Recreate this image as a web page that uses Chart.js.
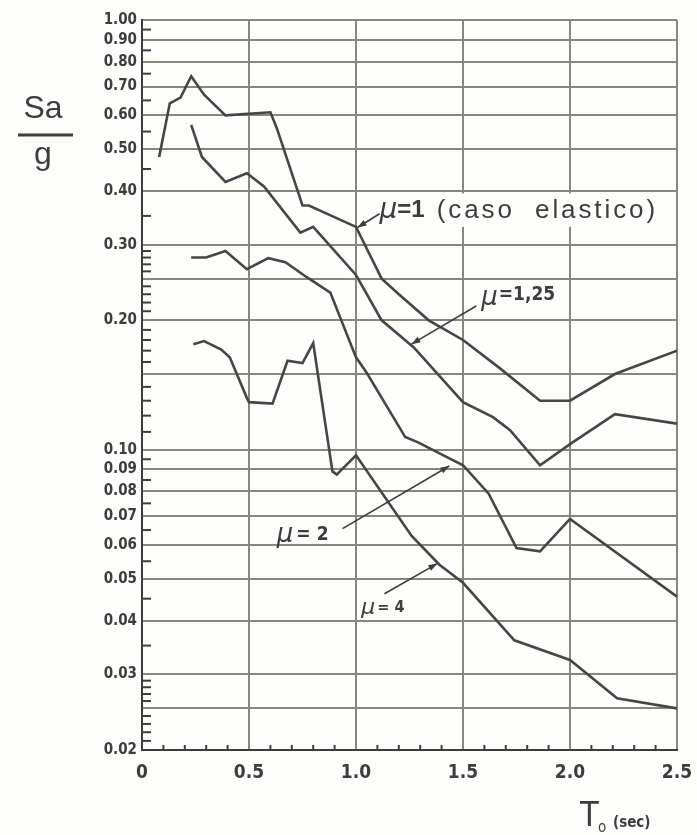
<!DOCTYPE html>
<html>
<head>
<meta charset="utf-8">
<script src="https://cdn.jsdelivr.net/npm/chart.js@4.4.0/dist/chart.umd.min.js"></script>
<style>
  html, body { margin: 0; padding: 0; background: #fff; }
  canvas { display: block; }
</style>
</head>
<body>
<canvas id="myChart" width="697" height="835"></canvas>
<script>
// periods T (sec) and spectral ordinates Sa/g
const tMu1 = [0.08, 0.13, 0.18, 0.23, 0.29, 0.39, 0.60, 0.63, 0.75, 0.78, 1.0, 1.12, 1.2, 1.34, 1.5, 1.67, 1.86, 2.0, 2.21, 2.5];
const saMu1 = [0.48, 0.64, 0.66, 0.74, 0.67, 0.60, 0.61, 0.56, 0.37, 0.37, 0.33, 0.25, 0.23, 0.20, 0.18, 0.155, 0.13, 0.13, 0.15, 0.17];

const tMu125 = [0.23, 0.28, 0.39, 0.49, 0.57, 0.74, 0.80, 1.0, 1.12, 1.27, 1.5, 1.64, 1.72, 1.86, 2.0, 2.21, 2.5];
const saMu125 = [0.57, 0.48, 0.42, 0.44, 0.41, 0.32, 0.33, 0.255, 0.20, 0.173, 0.129, 0.119, 0.111, 0.092, 0.103, 0.121, 0.115];

const tMu2 = [0.23, 0.30, 0.39, 0.49, 0.59, 0.67, 0.77, 0.88, 1.0, 1.05, 1.23, 1.29, 1.5, 1.62, 1.75, 1.86, 2.0, 2.5];
const saMu2 = [0.28, 0.28, 0.29, 0.263, 0.279, 0.273, 0.252, 0.232, 0.164, 0.151, 0.107, 0.104, 0.092, 0.079, 0.059, 0.058, 0.069, 0.0455];

const tMu4 = [0.24, 0.29, 0.37, 0.41, 0.49, 0.50, 0.61, 0.68, 0.75, 0.80, 0.89, 0.91, 1.0, 1.26, 1.39, 1.5, 1.74, 2.0, 2.22, 2.5];
const saMu4 = [0.176, 0.179, 0.171, 0.164, 0.132, 0.129, 0.128, 0.161, 0.159, 0.177, 0.089, 0.0875, 0.097, 0.063, 0.054, 0.049, 0.036, 0.0324, 0.0264, 0.025];

// axis ticks
const yGridValues = [1, 0.9, 0.8, 0.7, 0.6, 0.5, 0.4, 0.3, 0.25, 0.2, 0.15, 0.1, 0.09, 0.08, 0.07, 0.06, 0.05, 0.04, 0.03, 0.025, 0.02];
const yLabelValues = [1, 0.9, 0.8, 0.7, 0.6, 0.5, 0.4, 0.3, 0.2, 0.1, 0.09, 0.08, 0.07, 0.06, 0.05, 0.04, 0.03, 0.02];
const yMinorTicks = [0.95, 0.85, 0.75, 0.65, 0.55, 0.45, 0.35,
  0.29, 0.28, 0.27, 0.26, 0.24, 0.23, 0.22, 0.21,
  0.19, 0.18, 0.17, 0.16, 0.14, 0.13, 0.12, 0.11,
  0.095, 0.085, 0.075, 0.065, 0.055, 0.045, 0.035,
  0.029, 0.028, 0.027, 0.026, 0.024, 0.023, 0.022, 0.021];
const xMinorTicks = [0.1, 0.2, 0.3, 0.4, 0.6, 0.7, 0.8, 0.9, 1.1, 1.2, 1.3, 1.4, 1.6, 1.7, 1.8, 1.9, 2.1, 2.2, 2.3, 2.4];

const INK = "#3d3d3d";
const GRID = "#8b867b";
const CURVE = "#464646";
const COND = "'DejaVu Sans Condensed', 'DejaVu Sans', sans-serif";

function pts(ts, vs) {
  return ts.map((t, i) => ({ x: t, y: vs[i] }));
}

function curve(label, ts, vs) {
  return {
    label: label,
    data: pts(ts, vs),
    borderColor: CURVE,
    borderWidth: 2.6,
    pointRadius: 0,
    tension: 0,
    fill: false,
  };
}

// run of text pieces with different fonts, left aligned
function drawRun(ctx, x, y, parts) {
  ctx.textBaseline = "middle";
  ctx.textAlign = "left";
  parts.forEach((p) => {
    ctx.font = p.font;
    ctx.letterSpacing = p.spacing || "0px";
    ctx.fillText(p.text, x, y + (p.dy || 0));
    x += ctx.measureText(p.text).width + (p.gap || 0);
  });
  ctx.letterSpacing = "0px";
}

function arrow(ctx, x1, y1, x2, y2) {
  ctx.beginPath();
  ctx.moveTo(x1, y1);
  ctx.lineTo(x2, y2);
  ctx.stroke();
  const a = Math.atan2(y2 - y1, x2 - x1);
  const len = 9, w = 3.2;
  ctx.beginPath();
  ctx.moveTo(x2, y2);
  ctx.lineTo(x2 - len * Math.cos(a) + w * Math.sin(a), y2 - len * Math.sin(a) - w * Math.cos(a));
  ctx.lineTo(x2 - len * Math.cos(a) - w * Math.sin(a), y2 - len * Math.sin(a) + w * Math.cos(a));
  ctx.closePath();
  ctx.fill();
}

const paperPlugin = {
  id: "paper",
  beforeDraw(chart) {
    const ctx = chart.ctx;
    ctx.save();
    ctx.fillStyle = "#fdfdfb";
    ctx.fillRect(0, 0, chart.width, chart.height);
    ctx.restore();
  },
  beforeDatasetsDraw(chart) {
    const ctx = chart.ctx;
    const xs = chart.scales.x, ys = chart.scales.y;
    const area = chart.chartArea;
    ctx.save();
    // blank strip behind the elastic label
    ctx.fillStyle = "#fdfdfb";
    const bx = xs.getPixelForValue(1.04), bx2 = xs.getPixelForValue(2.47);
    const by = ys.getPixelForValue(0.395), by2 = ys.getPixelForValue(0.33);
    ctx.fillRect(bx, by, bx2 - bx, by2 - by);
    // short minor ticks inside the frame
    ctx.strokeStyle = INK;
    ctx.lineWidth = 2;
    yMinorTicks.forEach((v) => {
      const y = ys.getPixelForValue(v);
      ctx.beginPath();
      ctx.moveTo(area.left, y);
      ctx.lineTo(area.left + 9, y);
      ctx.stroke();
    });
    xMinorTicks.forEach((t) => {
      const x = xs.getPixelForValue(t);
      ctx.beginPath();
      ctx.moveTo(x, area.bottom);
      ctx.lineTo(x, area.bottom - 5);
      ctx.stroke();
    });
    ctx.restore();
  },
  afterDatasetsDraw(chart) {
    const ctx = chart.ctx;
    const xs = chart.scales.x, ys = chart.scales.y;
    const px = (t) => xs.getPixelForValue(t);
    const py = (v) => ys.getPixelForValue(v);
    ctx.save();
    ctx.fillStyle = INK;
    ctx.strokeStyle = INK;
    ctx.lineWidth = 1.6;

    // mu = 1 (caso elastico)
    arrow(ctx, px(1.11), py(0.354), px(1.007), py(0.329));
    drawRun(ctx, px(1.11), py(0.36), [
      { text: "\u03BC", font: "italic 28px 'DejaVu Sans', sans-serif" },
      { text: "=1", font: "bold 24px 'Liberation Sans', sans-serif", gap: 12 },
      { text: "(caso  elastico)", font: "26px 'Liberation Sans', sans-serif", spacing: "2.9px" },
    ]);

    // mu = 1,25
    arrow(ctx, px(1.562), py(0.216), px(1.259), py(0.176));
    drawRun(ctx, px(1.585), py(0.225), [
      { text: "\u03BC", font: "italic 26px 'DejaVu Sans', sans-serif", gap: 1 },
      { text: "=1,25", font: "bold 19px " + COND, dy: -3 },
    ]);

    // mu = 2
    arrow(ctx, px(0.937), py(0.0655), px(1.436), py(0.0916));
    drawRun(ctx, px(0.63), py(0.0632), [
      { text: "\u03BC", font: "italic 26px 'DejaVu Sans', sans-serif", gap: 3 },
      { text: "= 2", font: "bold 19px " + COND },
    ]);

    // mu = 4
    arrow(ctx, px(1.133), py(0.0462), px(1.38), py(0.0543));
    drawRun(ctx, px(1.025), py(0.0428), [
      { text: "\u03BC", font: "italic 22px 'DejaVu Sans', sans-serif", gap: 2 },
      { text: "= 4", font: "bold 16px " + COND },
    ]);

    // Sa / g axis label
    ctx.textAlign = "center";
    ctx.textBaseline = "alphabetic";
    ctx.font = "32px 'Liberation Sans', sans-serif";
    ctx.fillText("Sa", 43, 118);
    ctx.fillText("g", 43, 164);
    ctx.lineWidth = 3;
    ctx.beginPath();
    ctx.moveTo(18, 135);
    ctx.lineTo(73, 135);
    ctx.stroke();

    // T0 (sec)
    ctx.textAlign = "left";
    ctx.font = "34px " + COND;
    ctx.fillText("T", 580, 826);
    ctx.font = "15px " + COND;
    ctx.fillText("o", 598, 832);
    ctx.font = "bold 15px " + COND;
    ctx.fillText("(sec)", 613, 827);
    ctx.restore();
  },
};

const data = {
  datasets: [
    curve("\u03BC=1 (caso elastico)", tMu1, saMu1),
    curve("\u03BC=1,25", tMu125, saMu125),
    curve("\u03BC=2", tMu2, saMu2),
    curve("\u03BC=4", tMu4, saMu4),
  ],
};

const config = {
  type: "line",
  data: data,
  options: {
    responsive: false,
    animation: false,
    layout: { padding: { left: 0, top: 20, right: 20, bottom: 0 } },
    plugins: {
      legend: { display: false },
      tooltip: { enabled: false },
    },
    scales: {
      x: {
        type: "linear",
        min: 0,
        max: 2.5,
        afterFit: (s) => {
          s.height = 85;
          s.paddingLeft = 0;
          s.paddingRight = 0;
        },
        ticks: {
          stepSize: 0.5,
          padding: 12,
          color: INK,
          font: { family: COND, weight: "bold", size: 19 },
          callback: (v) => (v === 0 ? "0" : v.toFixed(1)),
        },
        grid: { color: GRID, lineWidth: 2, drawTicks: false },
        border: { color: INK, width: 2 },
      },
      y: {
        type: "logarithmic",
        min: 0.02,
        max: 1,
        afterFit: (s) => { s.width = 142; },
        afterBuildTicks: (s) => {
          s.ticks = yGridValues.map((v) => ({ value: v }));
        },
        ticks: {
          autoSkip: false,
          padding: 5,
          color: INK,
          font: { family: COND, weight: "bold", size: 15 },
          callback: (v) => (yLabelValues.includes(v) ? v.toFixed(2) : ""),
        },
        grid: { color: GRID, lineWidth: 2, drawTicks: false },
        border: { color: INK, width: 2 },
      },
    },
  },
  plugins: [paperPlugin],
};

var myChart = new Chart(document.getElementById("myChart"), config);
</script>
</body>
</html>
